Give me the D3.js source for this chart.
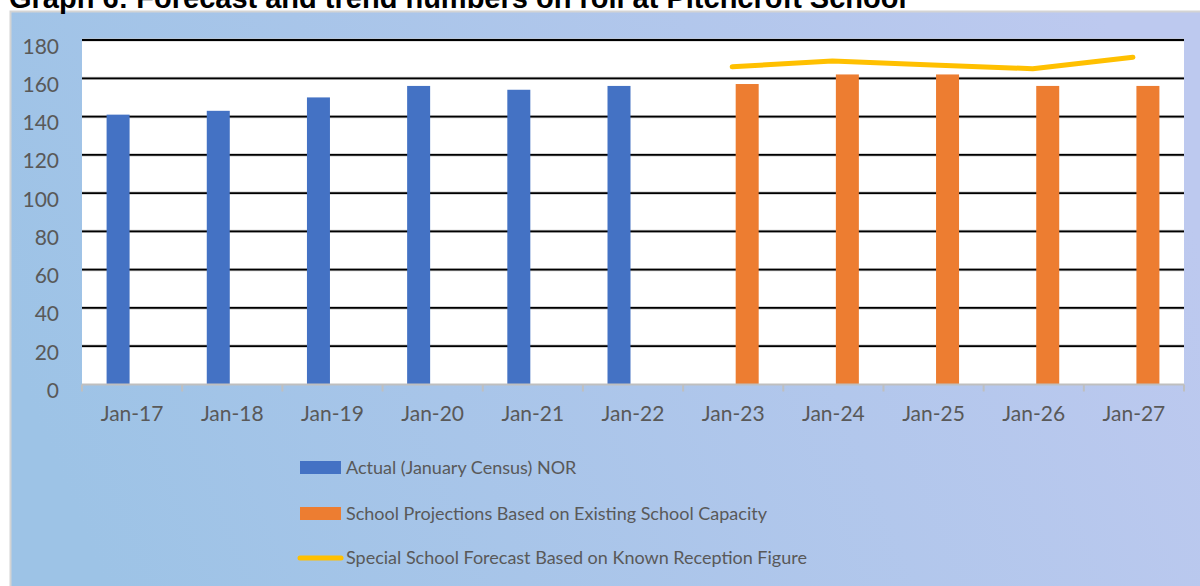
<!DOCTYPE html>
<html>
<head>
<meta charset="utf-8">
<script src="https://cdn.jsdelivr.net/npm/d3@7"></script>
<style>
  html, body { margin: 0; padding: 0; background: #fff; }
  svg { display: block; }
</style>
</head>
<body>
<svg id="chart" width="1200" height="586"></svg>
<script>
const categories = ["Jan-17","Jan-18","Jan-19","Jan-20","Jan-21","Jan-22","Jan-23","Jan-24","Jan-25","Jan-26","Jan-27"];
const actualNOR = [141, 143, 150, 156, 154, 156, null, null, null, null, null];
const projections = [null, null, null, null, null, null, 157, 162, 162, 156, 156];
const forecast = [null, null, null, null, null, null, 166, 169, 167, 165, 171];
const yTicks = [0, 20, 40, 60, 80, 100, 120, 140, 160, 180];
const seriesNames = [
  "Actual (January Census) NOR",
  "School Projections Based on Existing School Capacity",
  "Special School Forecast Based on Known Reception Figure"
];
const title = "Graph 6: Forecast and trend numbers on roll at Pitchcroft School";

const colors = { actual: "#4472C4", proj: "#ED7D31", line: "#FFC000" };
const textColor = "#595959";
const font = "Lato, 'Open Sans', sans-serif";

const svg = d3.select("#chart");

// background gradient
const defs = svg.append("defs");
const grad = defs.append("linearGradient").attr("id", "bg")
  .attr("x1", "0%").attr("y1", "60%").attr("x2", "100%").attr("y2", "40%");
grad.append("stop").attr("offset", "0%").attr("stop-color", "#9dc3e6");
grad.append("stop").attr("offset", "100%").attr("stop-color", "#bdc9ef");

svg.append("rect").attr("x", 10).attr("y", 11).attr("width", 1190).attr("height", 575)
  .attr("fill", "url(#bg)");
svg.append("path").attr("d", "M10.5,586 V11.5 H1200")
  .attr("fill", "none").attr("stroke", "#d4d4d4").attr("stroke-width", 2);

// title (partly clipped at top, as in the source)
svg.append("text").attr("x", 9).attr("y", 8)
  .attr("font-family", "'Liberation Sans', Arial, sans-serif")
  .attr("font-weight", "bold").attr("font-size", 29).attr("fill", "#000")
  .text(title);

const plot = { left: 82, right: 1184, top: 40, bottom: 384.5 };

svg.append("rect").attr("x", plot.left).attr("y", plot.top)
  .attr("width", plot.right - plot.left).attr("height", plot.bottom - plot.top)
  .attr("fill", "#fff");

const x = d3.scaleBand().domain(categories).range([plot.left, plot.right]).padding(0);
const y = d3.scaleLinear().domain([0, 180]).range([plot.bottom, plot.top]);
const x1 = d3.scaleBand().domain(["actual", "proj"]).range([-25.5, 25.5]).paddingInner(5 / 28);

// gridlines
const g = svg.append("g");
g.selectAll("line.grid").data(yTicks.filter(d => d > 0)).join("line")
  .attr("x1", plot.left).attr("x2", plot.right)
  .attr("y1", d => y(d)).attr("y2", d => y(d))
  .attr("stroke", "#c8c8c8").attr("stroke-width", 3.2);
g.selectAll("line.grid2").data(yTicks.filter(d => d > 0)).join("line")
  .attr("x1", plot.left).attr("x2", plot.right)
  .attr("y1", d => y(d)).attr("y2", d => y(d))
  .attr("stroke", "#000").attr("stroke-width", 1.8);

// y axis labels
const yAxis = d3.axisLeft(y).tickValues(yTicks).tickSize(0).tickPadding(23);
const ya = svg.append("g").attr("transform", `translate(${plot.left},0)`).call(yAxis);
ya.select(".domain").remove();
ya.selectAll("text").attr("font-family", font).attr("font-size", 21)
  .attr("fill", textColor).attr("dy", "0.62em");

// bars
const bars = svg.append("g");
bars.selectAll("rect.actual").data(categories.map((c, i) => ({ c, v: actualNOR[i] })).filter(d => d.v != null))
  .join("rect")
  .attr("x", d => x(d.c) + x.bandwidth() / 2 + x1("actual"))
  .attr("width", x1.bandwidth())
  .attr("y", d => y(d.v)).attr("height", d => y(0) - y(d.v))
  .attr("fill", colors.actual);
bars.selectAll("rect.proj").data(categories.map((c, i) => ({ c, v: projections[i] })).filter(d => d.v != null))
  .join("rect")
  .attr("x", d => x(d.c) + x.bandwidth() / 2 + x1("proj"))
  .attr("width", x1.bandwidth())
  .attr("y", d => y(d.v)).attr("height", d => y(0) - y(d.v))
  .attr("fill", colors.proj);

// x axis
const xAxis = d3.axisBottom(x).tickSize(0).tickPadding(22);
const xa = svg.append("g").attr("transform", `translate(0,${plot.bottom})`).call(xAxis);
xa.select(".domain").attr("stroke", "#bfbfbf").attr("stroke-width", 2)
  .attr("d", `M${plot.left},0H${plot.right}`);
xa.selectAll("text").attr("font-family", font).attr("font-size", 21).attr("fill", textColor);
// category boundary ticks
const bounds = categories.map(c => x(c)).concat([plot.right]);
xa.selectAll("line.bt").data(bounds).join("line")
  .attr("x1", d => d).attr("x2", d => d).attr("y1", 0).attr("y2", 7)
  .attr("stroke", "#bfbfbf").attr("stroke-width", 2);

// forecast line
const lineData = categories.map((c, i) => ({ c, v: forecast[i] })).filter(d => d.v != null);
svg.append("path").datum(lineData)
  .attr("d", d3.line().x(d => x(d.c) + x.bandwidth() / 2 - 1).y(d => y(d.v)))
  .attr("fill", "none").attr("stroke", colors.line).attr("stroke-width", 5)
  .attr("stroke-linecap", "round").attr("stroke-linejoin", "round");

// legend
const legend = svg.append("g");
const rowY = [467.5, 513.5, 558];
legend.append("rect").attr("x", 300).attr("y", rowY[0] - 6.5).attr("width", 41).attr("height", 13).attr("fill", colors.actual);
legend.append("rect").attr("x", 300).attr("y", rowY[1] - 6.5).attr("width", 41).attr("height", 13).attr("fill", colors.proj);
legend.append("line").attr("x1", 300).attr("x2", 341).attr("y1", rowY[2]).attr("y2", rowY[2])
  .attr("stroke", colors.line).attr("stroke-width", 5).attr("stroke-linecap", "round");
legend.selectAll("text").data(seriesNames).join("text")
  .attr("x", 346).attr("y", (d, i) => rowY[i]).attr("dy", "0.36em")
  .attr("font-family", font).attr("font-size", 18).attr("fill", textColor)
  .text(d => d);
</script>
</body>
</html>
